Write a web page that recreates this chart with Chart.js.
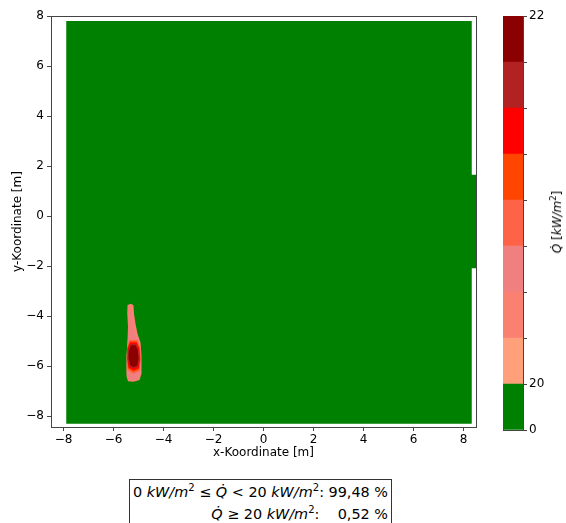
<!DOCTYPE html>
<html lang="de">
<head>
    <meta charset="UTF-8">
    <title>Wärmestrom</title>
    <style>
        body {
            margin: 0;
            background: #fff;
            font-family: "DejaVu Sans", sans-serif;
        }
        #wrap {
            position: relative;
            width: 566px;
            height: 523px;
            overflow: hidden;
        }
        canvas {
            position: absolute;
            top: 0;
        }
        #main { left: 0; }
        #bar { left: 490px; }
        #cbLabel {
            position: absolute;
            left: 557px;
            top: 222px;
            transform: translate(-50%, -50%) rotate(-90deg);
            font-size: 12px;
            white-space: nowrap;
            color: #000;
        }
        #stats {
            position: absolute;
            left: 129px;
            top: 479px;
            width: 256px;
            height: 60px;
            padding: 1px 3px 0 2px;
            border: 1px solid #333;
            font-size: 14.4px;
            line-height: 22px;
            text-align: right;
            white-space: pre;
            color: #000;
        }
        sup {
            font-size: 70%;
            line-height: 0;
            vertical-align: 0.55em;
        }
    </style>
    <script src="https://cdn.jsdelivr.net/npm/chart.js"></script>
</head>
<body>
<div id="wrap">
    <canvas id="main" width="490" height="470"></canvas>
    <canvas id="bar" width="76" height="470"></canvas>
    <div id="cbLabel"><i>Q̇</i> [<i>kW/m</i><sup>2</sup>]</div>
    <div id="stats"></div>
</div>

<script>
    // Konturstufen und Farben (Colorbar)
    const levels = [0, 20, 20.25, 20.5, 20.75, 21, 21.25, 21.5, 21.75, 22];
    const labeledLevels = [0, 20, 22];
    const levelColors = ['#008000', '#FFA07A', '#FA8072', '#F08080', '#FF6347', '#FF4500', '#FF0000', '#B22222', '#8B0000'];

    // Rechengebiet (Q < 20) als Umriss
    const fieldX = [-7.89, 8.33, 8.33, 8.51, 8.51, 8.33, 8.33, -7.89];
    const fieldY = [-8.30, -8.30, -2.08, -2.08, 1.65, 1.65, 7.80, 7.80];

    // Konturen der heißen Zone, Stufe 2 .. 8
    const contour2 = [[-5.44,-3.55],[-5.30,-3.50],[-5.20,-3.56],[-5.18,-3.90],[-5.12,-4.30],[-5.04,-4.70],[-4.92,-5.05],[-4.88,-5.60],[-4.88,-6.30],[-4.96,-6.55],[-5.20,-6.62],[-5.42,-6.60],[-5.48,-6.40],[-5.48,-5.60],[-5.44,-5.00],[-5.42,-4.40],[-5.45,-3.90]];
    const contour3 = [[-5.37,-3.85],[-5.27,-3.80],[-5.24,-4.30],[-5.12,-4.80],[-4.95,-5.05],[-4.90,-5.70],[-4.91,-6.30],[-4.99,-6.50],[-5.20,-6.56],[-5.42,-6.50],[-5.47,-6.30],[-5.47,-5.60],[-5.43,-5.00],[-5.38,-4.40]];
    const contour4 = [[-5.36,-4.95],[-5.05,-4.95],[-4.93,-5.25],[-4.91,-5.70],[-4.95,-6.18],[-5.20,-6.30],[-5.43,-6.16],[-5.47,-5.65],[-5.46,-5.25]];
    const contour5 = [[-5.35,-5.00],[-5.06,-5.00],[-4.95,-5.28],[-4.92,-5.70],[-4.97,-6.13],[-5.20,-6.23],[-5.42,-6.10],[-5.46,-5.65],[-5.45,-5.28]];
    const contour6 = [[-5.34,-5.05],[-5.08,-5.05],[-4.97,-5.30],[-4.94,-5.70],[-4.99,-6.08],[-5.20,-6.17],[-5.40,-6.05],[-5.45,-5.65],[-5.44,-5.30]];
    const contour7 = [[-5.32,-5.11],[-5.10,-5.11],[-5.00,-5.33],[-4.97,-5.70],[-5.02,-6.02],[-5.20,-6.09],[-5.37,-5.99],[-5.43,-5.65],[-5.41,-5.33]];
    const contour8 = [[-5.30,-5.16],[-5.12,-5.16],[-5.03,-5.35],[-5.00,-5.70],[-5.05,-5.98],[-5.20,-6.04],[-5.34,-5.95],[-5.40,-5.65],[-5.38,-5.35]];

    // Achsen
    const xTicks = [-8, -6, -4, -2, 0, 2, 4, 6, 8];
    const yTicks = [-8, -6, -4, -2, 0, 2, 4, 6, 8];

    // Flächenanteile
    const shareBelow = 99.48;
    const shareAbove = 0.52;

    const axisColor = '#444';
    Chart.defaults.font.family = 'DejaVu Sans';
    Chart.defaults.font.size = 12;
    Chart.defaults.color = '#000';

    const minus = v => String(v).replace('-', '\u2212');
    const fmt = v => v.toFixed(2).replace('.', ',');

    function polygon(pairs, color) {
        return {
            data: pairs.map(p => ({x: p[0], y: p[1]})),
            showLine: true,
            fill: 'shape',
            backgroundColor: color,
            borderWidth: 0,
            pointRadius: 0,
            tension: 0
        };
    }

    const contours = [contour8, contour7, contour6, contour5, contour4, contour3, contour2];
    const datasets = contours.map((c, i) => polygon(c, levelColors[8 - i]));
    datasets.push(polygon(fieldX.map((x, i) => [x, fieldY[i]]), levelColors[0]));

    const borderOnly = (pos, axis) => ({
        type: 'linear',
        position: pos,
        axis: axis,
        min: axis === 'x' ? -8.5 : -8.43,
        max: axis === 'x' ? 8.5 : 8.0,
        ticks: { display: false },
        grid: { display: false },
        border: { display: true, color: axisColor, width: 1 },
        afterFit: s => { if (axis === 'x') s.height = 0; else s.width = 0; }
    });

    new Chart(document.getElementById('main'), {
        type: 'scatter',
        data: { datasets: datasets },
        options: {
            responsive: false,
            animation: false,
            layout: { padding: { top: 16, right: 14, left: 0, bottom: 0 } },
            plugins: { legend: { display: false }, tooltip: { enabled: false } },
            scales: {
                x: {
                    type: 'linear',
                    position: 'bottom',
                    min: -8.5,
                    max: 8.5,
                    afterBuildTicks: s => { s.ticks = xTicks.map(v => ({value: v})); },
                    ticks: { callback: v => minus(v), padding: 2, maxRotation: 0 },
                    grid: { drawOnChartArea: false, drawTicks: true, tickLength: 4, color: axisColor },
                    border: { display: true, color: axisColor, width: 1 },
                    title: { display: true, text: 'x-Koordinate [m]', padding: { top: 0, bottom: 10 } },
                    afterFit: s => { s.height = 43; }
                },
                y: {
                    type: 'linear',
                    position: 'left',
                    min: -8.43,
                    max: 8.0,
                    afterBuildTicks: s => { s.ticks = yTicks.map(v => ({value: v})); },
                    ticks: { callback: v => minus(v), padding: 3 },
                    grid: { drawOnChartArea: false, drawTicks: true, tickLength: 4, color: axisColor },
                    border: { display: true, color: axisColor, width: 1 },
                    title: { display: true, text: 'y-Koordinate [m]', padding: { top: 11, bottom: 0 } },
                    afterFit: s => { s.width = 51; }
                },
                xTop: borderOnly('top', 'x'),
                yRight: borderOnly('right', 'y')
            }
        }
    });

    // Colorbar
    const barSets = levelColors.map(c => ({
        data: [1],
        backgroundColor: c,
        borderWidth: 0,
        barPercentage: 1,
        categoryPercentage: 1,
        xAxisID: 'x',
        yAxisID: 'y'
    }));

    new Chart(document.getElementById('bar'), {
        type: 'bar',
        data: { labels: [''], datasets: barSets },
        options: {
            responsive: false,
            animation: false,
            layout: { padding: { top: 16, left: 13, right: 0, bottom: 40 } },
            plugins: { legend: { display: false }, tooltip: { enabled: false } },
            scales: {
                x: {
                    stacked: true,
                    position: 'bottom',
                    ticks: { display: false },
                    grid: { display: false },
                    border: { display: true, color: axisColor, width: 1 },
                    afterFit: s => { s.height = 0; }
                },
                xTop: {
                    type: 'category',
                    position: 'top',
                    ticks: { display: false },
                    grid: { display: false },
                    border: { display: true, color: axisColor, width: 1 },
                    afterFit: s => { s.height = 0; }
                },
                y: {
                    stacked: true,
                    position: 'right',
                    min: 0,
                    max: levels.length - 1,
                    ticks: {
                        stepSize: 1,
                        padding: 2,
                        callback: v => labeledLevels.includes(levels[v]) ? String(levels[v]) : ''
                    },
                    grid: { drawOnChartArea: false, drawTicks: true, tickLength: 4, color: axisColor },
                    border: { display: true, color: axisColor, width: 1 },
                    afterFit: s => { s.width = 43; }
                },
                yLeft: {
                    type: 'linear',
                    position: 'left',
                    min: 0,
                    max: levels.length - 1,
                    ticks: { display: false },
                    grid: { display: false },
                    border: { display: true, color: axisColor, width: 1 },
                    afterFit: s => { s.width = 0; }
                }
            }
        }
    });

    document.getElementById('stats').innerHTML =
        '<div>0 <i>kW/m</i><sup>2</sup> ≤ <i>Q̇</i> &lt; 20 <i>kW/m</i><sup>2</sup>: ' + fmt(shareBelow) + ' %</div>' +
        '<div><i>Q̇</i> ≥ 20 <i>kW/m</i><sup>2</sup>:    ' + fmt(shareAbove) + ' %</div>';
</script>
</body>
</html>
